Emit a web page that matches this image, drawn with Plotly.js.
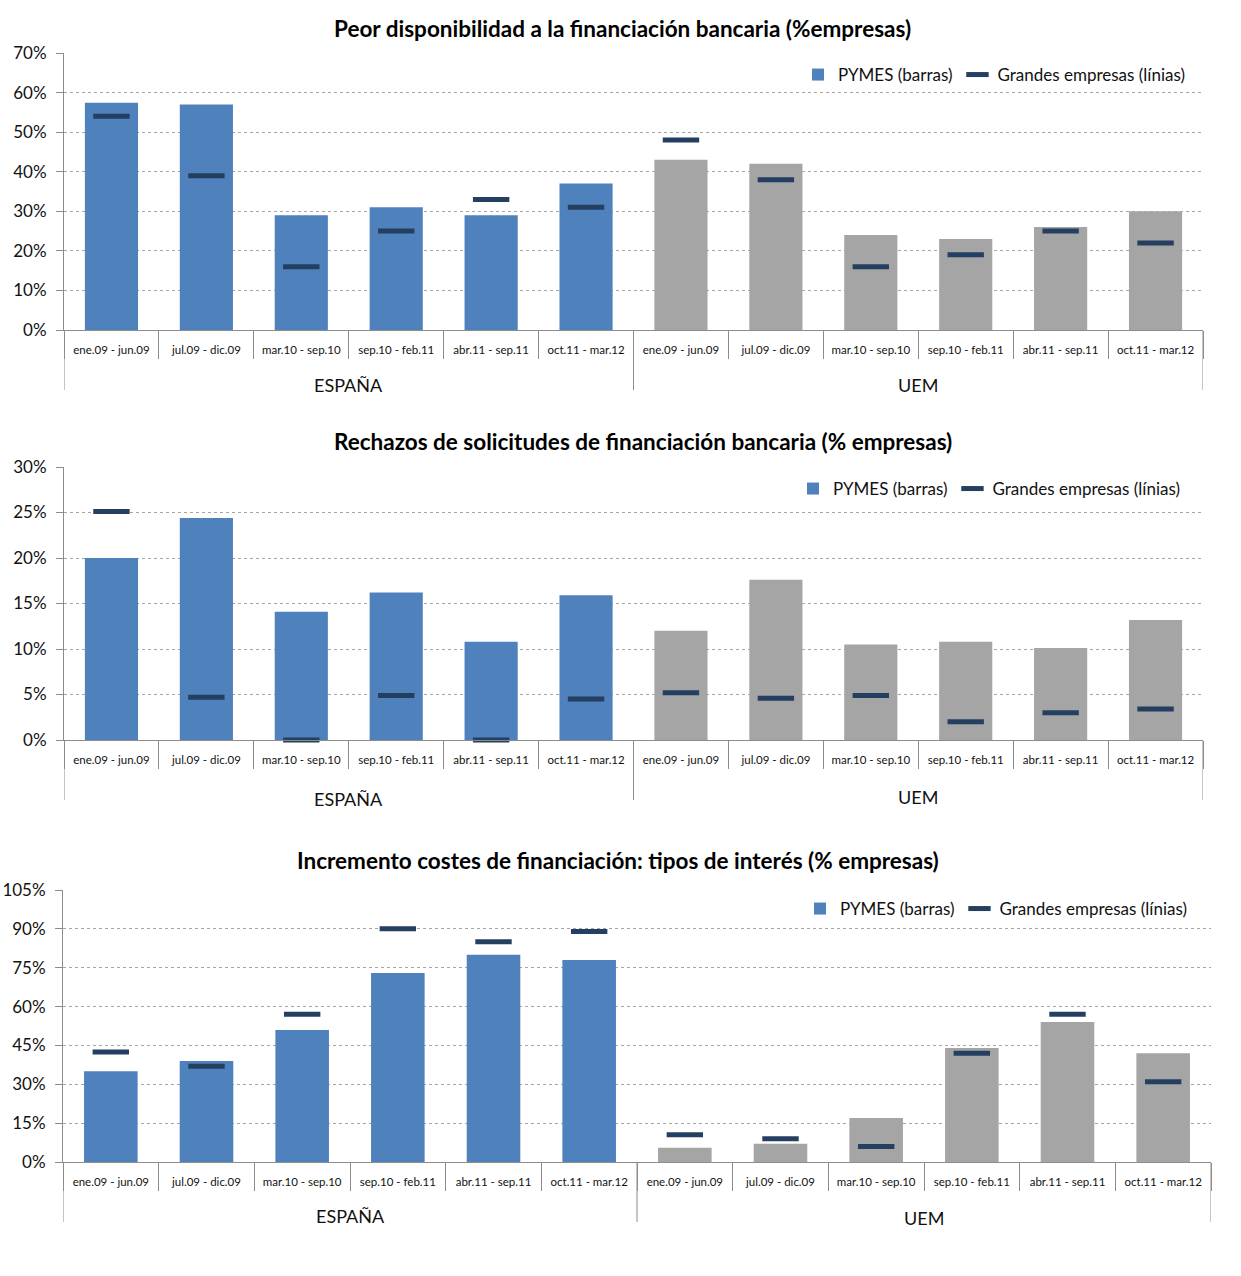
<!DOCTYPE html>
<html>
<head>
<meta charset="utf-8">
<script src="https://cdn.plot.ly/plotly-3.0.1.min.js"></script>
<style>html,body{margin:0;padding:0;background:#fff;}#chart{width:1241px;height:1276px;}</style>
</head>
<body>
<div id="chart"></div>
<script>
// ---- data ----
const periods = ["ene.09 - jun.09","jul.09 - dic.09","mar.10 - sep.10","sep.10 - feb.11","abr.11 - sep.11","oct.11 - mar.12"];
const regions = ["ESPAÑA","UEM"];
const titles = [
  "Peor disponibilidad a la financiación bancaria (%empresas)",
  "Rechazos de solicitudes de financiación bancaria (% empresas)",
  "Incremento costes de financiación: tipos de interés (% empresas)"
];
const legendNames = ["PYMES (barras)", "Grandes empresas (línias)"];
// Panel 1: peor disponibilidad
const pymes1   = [57.4, 57, 29, 31, 29, 37,   43, 42, 24, 23, 26, 30];
const grandes1 = [54, 39, 16, 25, 33, 31,     48, 38, 16, 19, 25, 22];
// Panel 2: rechazos
const pymes2   = [20, 24.4, 14.1, 16.2, 10.8, 15.9,   12, 17.6, 10.5, 10.8, 10.1, 13.2];
const grandes2 = [25.1, 4.7, 0, 4.9, 0, 4.5,          5.2, 4.6, 4.9, 2.0, 3.0, 3.4];
// Panel 3: tipos de interés
const pymes3   = [35, 39, 51, 73, 80, 78,   5.5, 7, 17, 44, 54, 42];
const grandes3 = [42.5, 37, 57, 90, 85, 89, 10.5, 9, 6, 42, 57, 31];
const yMax  = [70, 30, 105];
const yStep = [10, 5, 15];

// ---- styling / layout ----
const W = 1241, H = 1276;
const FONT = "Lato, 'Open Sans', sans-serif";
const BLUE = "#4F81BD", GRAY = "#A5A5A5", NAVY = "#243F60", AXIS = "#8C8C8C";
// pixel boxes of each plot area: [left, right, top, bottom]
const boxes = [[64, 1203, 53, 330], [64, 1203, 467, 740], [63, 1211, 890, 1162]];
const titlePos = [[622, 28], [643, 441], [618, 860]];
const legendPos = [[1190, 75], [1185, 489], [1192, 909]];
const groupOff = [[55, 55], [59, 57], [54, 56]];

const labels = regions.flatMap(() => periods);
const xs = labels.map((_, i) => i);
const colors = regions.flatMap((r, g) => periods.map(() => g === 0 ? BLUE : GRAY));
const pymes = [pymes1, pymes2, pymes3];
const grandes = [grandes1, grandes2, grandes3];

const traces = [], layout = {
  width: W, height: H, margin: {l: 0, r: 0, t: 0, b: 0},
  paper_bgcolor: "#fff", plot_bgcolor: "#fff",
  font: {family: FONT, color: "#1a1a1a"},
  bargap: 0.44, showlegend: true,
  annotations: [], shapes: []
};
const px = (x) => x / W, py = (y) => 1 - y / H;

for (let p = 0; p < 3; p++) {
  const sfx = p === 0 ? "" : String(p + 1);
  const xa = "x" + sfx, ya = "y" + sfx, lg = "legend" + sfx;
  const [l, r, t, b] = boxes[p];
  traces.push({
    type: "bar", x: xs, y: pymes[p], xaxis: xa, yaxis: ya,
    name: legendNames[0], legend: lg,
    marker: {color: colors, line: {width: 0}}, hoverinfo: "y"
  });
  traces.push({
    type: "scatter", mode: "markers", x: xs, y: grandes[p], xaxis: xa, yaxis: ya,
    name: legendNames[1], legend: lg, cliponaxis: false,
    marker: {symbol: "line-ew", size: 26, color: NAVY, line: {color: NAVY, width: 5}}
  });
  layout["xaxis" + sfx] = {
    domain: [px(l), px(r)], anchor: ya, range: [-0.5, labels.length - 0.5],
    tickmode: "array", tickvals: xs, ticktext: labels, ticks: "", ticklabelstandoff: 9,
    tickfont: {size: 11.5, family: FONT, color: "#111"},
    showline: true, linecolor: AXIS, linewidth: 1, showgrid: false, zeroline: false,
    minor: {ticks: "outside", ticklen: 28, tickcolor: AXIS, tickwidth: 1, tick0: 0.5, dtick: 1, showgrid: false},
    fixedrange: true
  };
  layout["yaxis" + sfx] = {
    domain: [py(b), py(t)], anchor: xa, range: [0, yMax[p]], dtick: yStep[p], tick0: 0,
    ticksuffix: "%", ticks: "outside", ticklen: 7, tickcolor: AXIS, ticklabelstandoff: 6,
    tickfont: {size: 17, family: FONT, color: "#111"},
    showline: true, linecolor: AXIS, linewidth: 1,
    showgrid: true, gridcolor: "#A6A6A6", griddash: "dot", gridwidth: 1, zeroline: false,
    fixedrange: true
  };
  layout[lg] = {
    orientation: "h", x: px(legendPos[p][0]), y: py(legendPos[p][1]),
    xanchor: "right", yanchor: "middle", xref: "paper", yref: "paper",
    bgcolor: "rgba(255,255,255,0)", font: {size: 17, family: FONT, color: "#111"},
    itemwidth: 30, tracegroupgap: 0
  };
  layout.annotations.push({
    text: "<b>" + titles[p] + "</b>", xref: "paper", yref: "paper",
    x: px(titlePos[p][0]), y: py(titlePos[p][1]), xanchor: "center", yanchor: "middle",
    showarrow: false, font: {size: 22.5, family: FONT, color: "#000"}
  });
  // group labels and group dividers
  regions.forEach((reg, g) => {
    const start = g * periods.length - 0.5, end = (g + 1) * periods.length - 0.5;
    layout.annotations.push({
      text: reg, xref: xa, yref: "paper", x: (start + end) / 2, y: py(b + groupOff[p][g]),
      xanchor: "center", yanchor: "middle", showarrow: false,
      font: {size: 18, family: FONT, color: "#111"}
    });
  });
  for (let g = 0; g <= regions.length; g++) {
    const bx = g * periods.length - 0.5;
    layout.shapes.push({
      type: "line", xref: xa, yref: "paper", x0: bx, x1: bx, y0: py(b), y1: py(b + 60),
      line: {color: AXIS, width: 1}
    });
  }
}

Plotly.newPlot("chart", traces, layout, {displayModeBar: false, staticPlot: true});
</script>
</body>
</html>
